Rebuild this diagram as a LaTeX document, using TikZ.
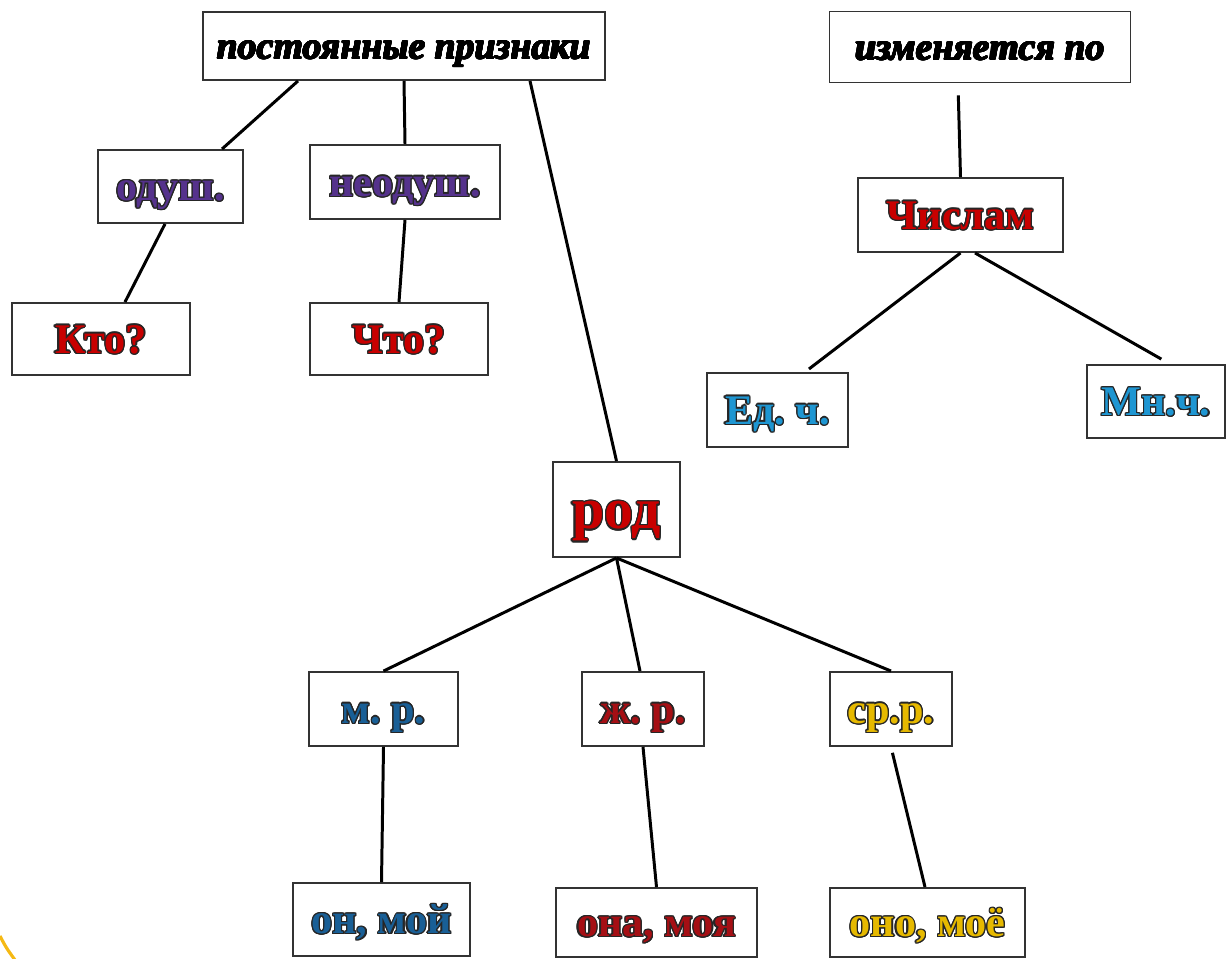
\documentclass[tikz,border=0pt]{standalone}
\usepackage{fontspec}
\setmainfont{Liberation Serif}
\usepackage[copies]{contour}
\contourlength{0.7pt}
\usepackage{tikz}
\frenchspacing

\definecolor{lilac}{RGB}{85,50,140}
\definecolor{redtxt}{RGB}{200,0,0}
\definecolor{skyblue}{RGB}{30,150,210}
\definecolor{deepblue}{RGB}{25,95,150}
\definecolor{darkred}{RGB}{165,15,20}
\definecolor{goldtxt}{RGB}{230,185,0}
\definecolor{arcyellow}{RGB}{245,185,20}

\newcommand{\outl}[2]{\textcolor{#1}{\contour{black!85}{#2}}}
\newcommand{\heavy}[1]{{\contourlength{0.35pt}\contour{black}{#1}}}

\tikzset{
    box/.style={draw=black!80, line width=1.1pt, fill=white, inner sep=0pt,
        text height=21.4pt, text depth=5.3pt,
        font=\fontsize{24}{28}\selectfont\bfseries},
    head/.style={box, text height=19.1pt, text depth=4.7pt,
        font=\fontsize{21.5}{26}\selectfont\bfseries\itshape},
    big/.style={box, text height=29.4pt, text depth=7.3pt,
        font=\fontsize{33}{38}\selectfont\bfseries},
    size/.style 2 args={minimum width=#1cm, minimum height=#2cm},
    link/.style={draw=black, line width=1.7pt},
}

\begin{document}
\begin{tikzpicture}
	\useasboundingbox (0,0) rectangle (24.54,-19.18);
	% left tree
	\node[head, size={8.04}{1.36}] (prizn) at (8.08,-0.92) {\heavy{постоянные признаки}};
	\node[box, size={2.90}{1.46}] (odush) at (3.41,-3.73) {\outl{lilac}{одуш.}};
	\node[box, size={3.80}{1.48}] (neodush) at (8.10,-3.64) {\outl{lilac}{неодуш.}};
	\node[box, size={3.56}{1.44}] (kto) at (2.02,-6.78) {\outl{redtxt}{Кто?}};
	\node[box, size={3.56}{1.44}] (chto) at (7.98,-6.78) {\outl{redtxt}{Что?}};
	% right tree
	\node[head, size={6.02}{1.42}] (izm) at (19.60,-0.94) {\heavy{изменяется по}};
	\node[box, size={4.10}{1.48}] (chislam) at (19.21,-4.30) {\outl{redtxt}{Числам}};
	\node[box, size={2.82}{1.48}] (ed) at (15.55,-8.20) {\outl{skyblue}{Ед. ч.}};
	\node[box, size={2.76}{1.46}] (mn) at (23.12,-8.03) {\outl{skyblue}{Мн.ч.}};
	% gender
	\node[big, size={2.54}{1.90}] (rod) at (12.33,-10.19) {\outl{redtxt}{род}};
	\node[box, size={2.98}{1.48}] (mr) at (7.67,-14.18) {\outl{deepblue}{м. р.}};
	\node[box, size={2.44}{1.48}] (zhr) at (12.86,-14.18) {\outl{darkred}{ж. р.}};
	\node[box, size={2.44}{1.48}] (srr) at (17.82,-14.18) {\outl{goldtxt}{ср.р.}};
	\node[box, size={3.54}{1.46}] (on) at (7.63,-18.39) {\outl{deepblue}{он, мой}};
	\node[box, size={4.02}{1.38}] (ona) at (13.13,-18.45) {\outl{darkred}{она, моя}};
	\node[box, size={3.90}{1.38}] (ono) at (18.55,-18.45) {\outl{goldtxt}{оно, моё}};

	\draw[link] ([xshift=-2.12cm]prizn.south) -- ([xshift=1.03cm]odush.north);
	\draw[link] (prizn.south) -- (neodush.north);
	\draw[link] ([xshift=2.52cm]prizn.south) -- (rod.north);
	\draw[link] ([xshift=-0.11cm]odush.south) -- ([xshift=0.48cm]kto.north);
	\draw[link] (neodush.south) -- (chto.north);
	\draw[link, shorten <=0.24cm] ([xshift=-0.44cm]izm.south) -- (chislam.north);
	\draw[link, shorten >=0.1cm] (chislam.south) -- ([xshift=0.55cm]ed.north);
	\draw[link, shorten >=0.2cm] ([xshift=0.29cm]chislam.south) -- ([xshift=0.28cm]mn.north);
	\draw[link] (rod.south) -- (mr.north);
	\draw[link] (rod.south) -- ([xshift=-0.06cm]zhr.north);
	\draw[link] (rod.south) -- (srr.north);
	\draw[link] (mr.south) -- (on.north);
	\draw[link] (zhr.south) -- (ona.north);
	\draw[link, shorten <=0.12cm] (srr.south) -- ([xshift=-0.05cm]ono.north);

	\draw[arcyellow, line width=1.8pt] (0,-18.72) .. controls (0.12,-18.95) .. (0.3,-19.2);
\end{tikzpicture}
\end{document}
